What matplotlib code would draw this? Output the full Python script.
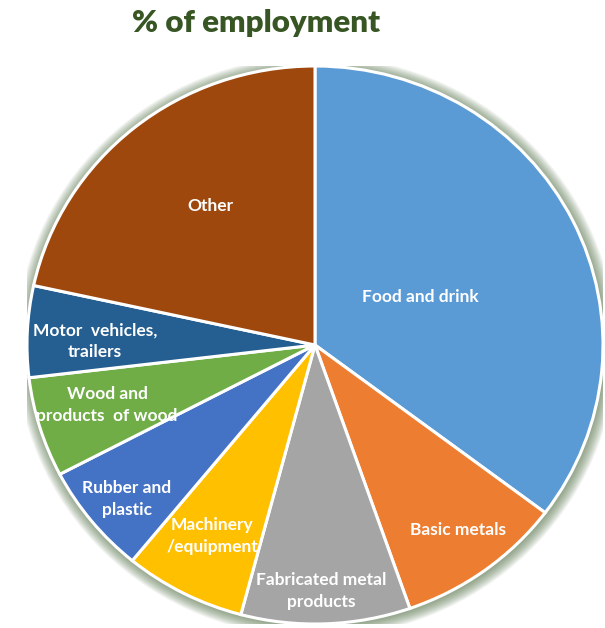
import matplotlib.pyplot as plt
from matplotlib.patches import Ellipse

# employment share by sector, clockwise from 12 o'clock
sectors = ["Food and drink", "Basic metals", "Fabricated metal\nproducts",
           "Machinery\n/equipment", "Rubber and\nplastic", "Wood and\nproducts  of wood",
           "Motor  vehicles,\ntrailers", "Other"]
shares = [35.3, 9.4, 9.5, 6.8, 6.4, 5.8, 5.3, 21.6]
colors = ["#5B9BD5", "#ED7D31", "#A5A5A5", "#FFC000",
          "#4472C4", "#70AD47", "#255E91", "#9E480E"]

# label centres in pixels (x, y from top)
label_px = [(420, 297), (458, 530), (321, 591), (212, 536),
            (127, 499), (107, 405), (95, 341), (210, 206)]

W, H = 605, 628
cx, cy, rx, ry = 315, 345, 288, 279

plt.rcParams['font.family'] = ['Lato', 'DejaVu Sans']
fig = plt.figure(figsize=(W / 100, H / 100), dpi=100)
ax = fig.add_axes([(cx - rx) / W, (H - cy - ry) / H, 2 * rx / W, 2 * ry / H])

# soft green halo behind the pie
for i in range(12):
    s = 1.0 + 0.0035 * (12 - i)
    ax.add_patch(Ellipse((0.004, -0.006), 2 * s, 2 * s, facecolor="#56734A",
                         edgecolor="none", alpha=0.07, zorder=0))

ax.pie(shares, colors=colors, startangle=90, counterclock=False,
       wedgeprops=dict(edgecolor="white", linewidth=2.2))
ax.set_aspect('auto')
ax.set_xlim(-1, 1)
ax.set_ylim(-1, 1)
ax.axis('off')

for text, (px, py) in zip(sectors, label_px):
    ax.text((px - cx) / rx, (cy - py) / ry, text, color="white", fontsize=12.5,
            fontweight="bold", ha="center", va="center", linespacing=1.45, zorder=5)

fig.text(256 / W, 1 - 23 / H, "% of employment", color="#375623", fontsize=22.5,
         fontweight="heavy", ha="center", va="center")

fig.savefig("out.png", dpi=100)
